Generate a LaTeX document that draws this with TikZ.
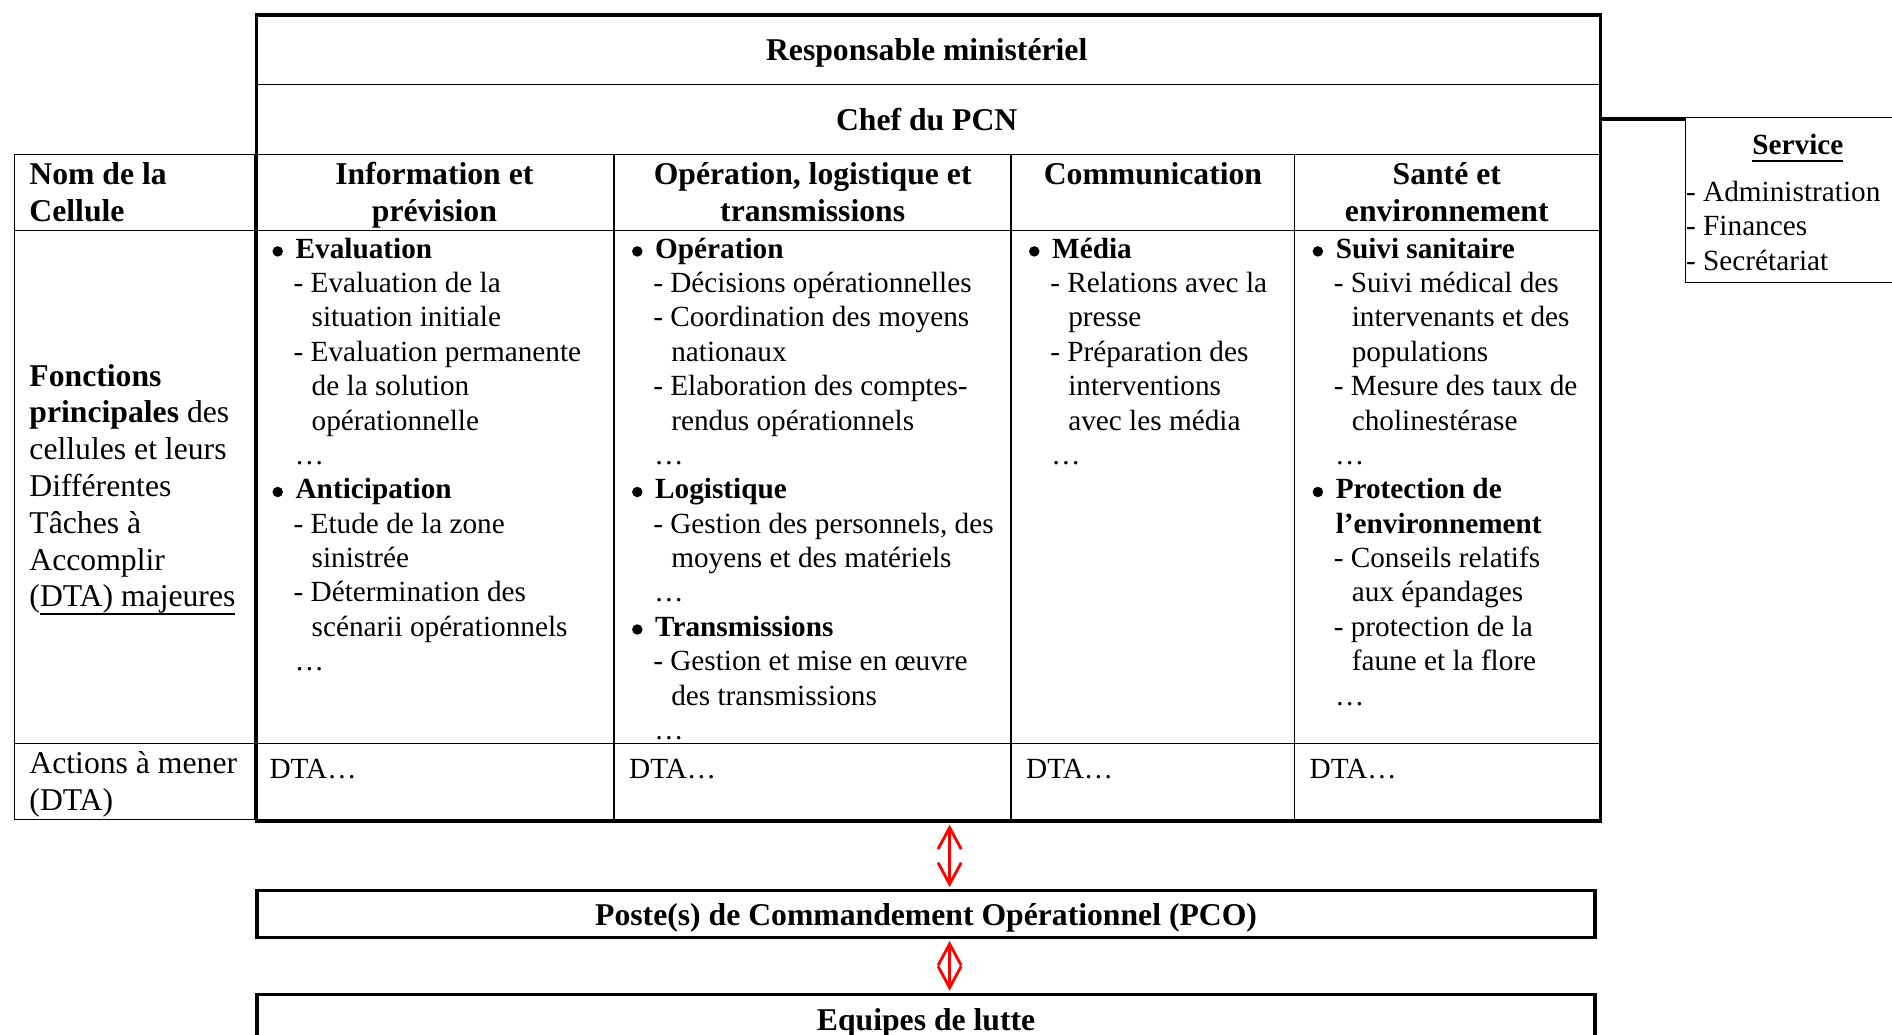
\documentclass[tikz,border=0pt]{standalone}
\usepackage{fontspec}
\setmainfont{Liberation Serif}
\usetikzlibrary{arrows.meta}
\def\U{0.495pt}
\newcommand\bodyfont{\fontsize{12pt}{14.1pt}\selectfont}
\newcommand\hdfont{\fontsize{13pt}{15pt}\selectfont\bfseries}
\newcommand\lcfont{\fontsize{13pt}{15.1pt}\selectfont}
\newcommand\bulletdot{\tikz[baseline=-2.8pt]\fill (0,0) circle (2.15pt);}
\newcommand\bit[1]{\makebox[9.7pt][l]{\hspace*{0.2pt}\bulletdot}\textbf{#1}}
\newcommand\bct[1]{\hspace*{9.7pt}\textbf{#1}}
\newcommand\dit[1]{\hspace*{8.9pt}- #1}
\newcommand\cnt[1]{\hspace*{16.3pt}#1}
\newcommand\suite{\hspace*{9.4pt}…}
\newcommand\ulx[1]{{\setbox0\hbox{#1}\rlap{\rule[-3.1pt]{\wd0}{0.65pt}}\box0}}
\newcommand\colbody[1]{\begin{tabular}[t]{@{}l@{}}#1\end{tabular}}
\newcommand\colhead[1]{\begin{tabular}[t]{@{}c@{}}#1\end{tabular}}
\tikzset{
  thinline/.style={line width=0.6pt},
  thickbox/.style={draw, line width=1.4pt, inner sep=0pt},
  txt/.style={inner sep=0pt, anchor=base},
  txtl/.style={inner sep=0pt, anchor=base west},
  link/.style={draw=red, line width=1.15pt,
    {Straight Barb[length=8.8pt,width=9.5pt]}-{Straight Barb[length=8.8pt,width=9.5pt]},
    shorten <=0.8pt, shorten >=0.8pt},
}
\begin{document}
\begin{tikzpicture}[x=\U, y=-\U]
\path[use as bounding box] (0,0) rectangle (1568,857);
\clip (0,0) rectangle (1568,857);

% inner grid (thin)
\draw[thinline] (12,128) rectangle (211,679);
\draw[thinline] (211,70) -- (1325,70);
\draw[thinline] (211,128) -- (1325,128);
\draw[thinline] (12,191) -- (1325,191);
\draw[thinline] (12,616) -- (1325,616);
\foreach \cx in {509,838,1073} \draw[thinline] (\cx,128) -- (\cx,679);

% main frame
\node[thickbox, anchor=north west, minimum width=1114*\U, minimum height=668*\U] (frame) at (211,11) {};

% top rows
\node[txt, font=\hdfont] (resp) at (768,50) {Responsable ministériel};
\node[txt, font=\hdfont] (chef) at (768,108) {Chef du PCN};

% header row
\node[txtl, font=\hdfont] (nom) at (24,153) {\colbody{Nom de la\\Cellule}};
\node[txt, font=\hdfont] (h1) at (360,153) {\colhead{Information et\\prévision}};
\node[txt, font=\hdfont] (h2) at (673.5,153) {\colhead{Opération, logistique et\\transmissions}};
\node[txt, font=\hdfont] (h3) at (955.5,153) {\colhead{Communication}};
\node[txt, font=\hdfont] (h4) at (1199,153) {\colhead{Santé et\\environnement}};

% left column
\node[txtl, font=\lcfont] (fonc) at (24,320) {\colbody{\textbf{Fonctions}\\\textbf{principales} des\\cellules et leurs\\Différentes\\Tâches à\\Accomplir\\(\ulx{DTA) majeures}}};
\node[txtl, font=\lcfont] (act) at (24,641) {\colbody{Actions à mener\\(DTA)}};

% body columns
\node[txtl, font=\bodyfont] (c1) at (225,214) {\colbody{%
\bit{Evaluation}\\
\dit{Evaluation de la}\\
\cnt{situation initiale}\\
\dit{Evaluation permanente}\\
\cnt{de la solution}\\
\cnt{opérationnelle}\\
\suite\\
\bit{Anticipation}\\
\dit{Etude de la zone}\\
\cnt{sinistrée}\\
\dit{Détermination des}\\
\cnt{scénarii opérationnels}\\
\suite}};

\node[txtl, font=\bodyfont] (c2) at (523,214) {\colbody{%
\bit{Opération}\\
\dit{Décisions opérationnelles}\\
\dit{Coordination des moyens}\\
\cnt{nationaux}\\
\dit{Elaboration des comptes-}\\
\cnt{rendus opérationnels}\\
\suite\\
\bit{Logistique}\\
\dit{Gestion des personnels, des}\\
\cnt{moyens et des matériels}\\
\suite\\
\bit{Transmissions}\\
\dit{Gestion et mise en œuvre}\\
\cnt{des transmissions}\\
\suite}};

\node[txtl, font=\bodyfont] (c3) at (852,214) {\colbody{%
\bit{Média}\\
\dit{Relations avec la}\\
\cnt{presse}\\
\dit{Préparation des}\\
\cnt{interventions}\\
\cnt{avec les média}\\
\suite}};

\node[txtl, font=\bodyfont] (c4) at (1087,214) {\colbody{%
\bit{Suivi sanitaire}\\
\dit{Suivi médical des}\\
\cnt{intervenants et des}\\
\cnt{populations}\\
\dit{Mesure des taux de}\\
\cnt{cholinestérase}\\
\suite\\
\bit{Protection de}\\
\bct{l’environnement}\\
\dit{Conseils relatifs}\\
\cnt{aux épandages}\\
\dit{protection de la}\\
\cnt{faune et la flore}\\
\suite}};

% actions row
\node[txtl, font=\bodyfont] (d1) at (223,645) {DTA…};
\node[txtl, font=\bodyfont] (d2) at (521,645) {DTA…};
\node[txtl, font=\bodyfont] (d3) at (850,645) {DTA…};
\node[txtl, font=\bodyfont] (d4) at (1085,645) {DTA…};

% service box
\node[draw, line width=0.5pt, inner sep=0pt, anchor=north west, minimum width=190*\U, minimum height=137*\U] (service) at (1396.5,96.7) {};
\node[txt, font=\bodyfont\bfseries] (servt) at (1490,128) {\ulx{Service}};
\node[txtl, font=\bodyfont] (servl) at (1397,167) {\colbody{- Administration\\- Finances\\- Secrétariat}};
\coordinate (conn) at (1396.5,98.6);
\draw[line width=1.5pt] (frame.east |- conn) -- (conn);

% PCO and Equipes
\node[thickbox, txt, font=\hdfont, minimum width=1109*\U, text height=14.06pt, text depth=5.05pt] (pco) at (767.5,766.6) {Poste(s) de Commandement Opérationnel (PCO)};
\node[thickbox, txt, font=\hdfont, minimum width=1109*\U, text height=14.65pt, text depth=30pt] (equipes) at (767.5,853.6) {Equipes de lutte};

% red links
\coordinate (ax) at (787,0);
\draw[link] (frame.south -| ax) -- (pco.north -| ax);
\draw[link] (pco.south -| ax) -- (equipes.north -| ax);
\end{tikzpicture}
\end{document}
